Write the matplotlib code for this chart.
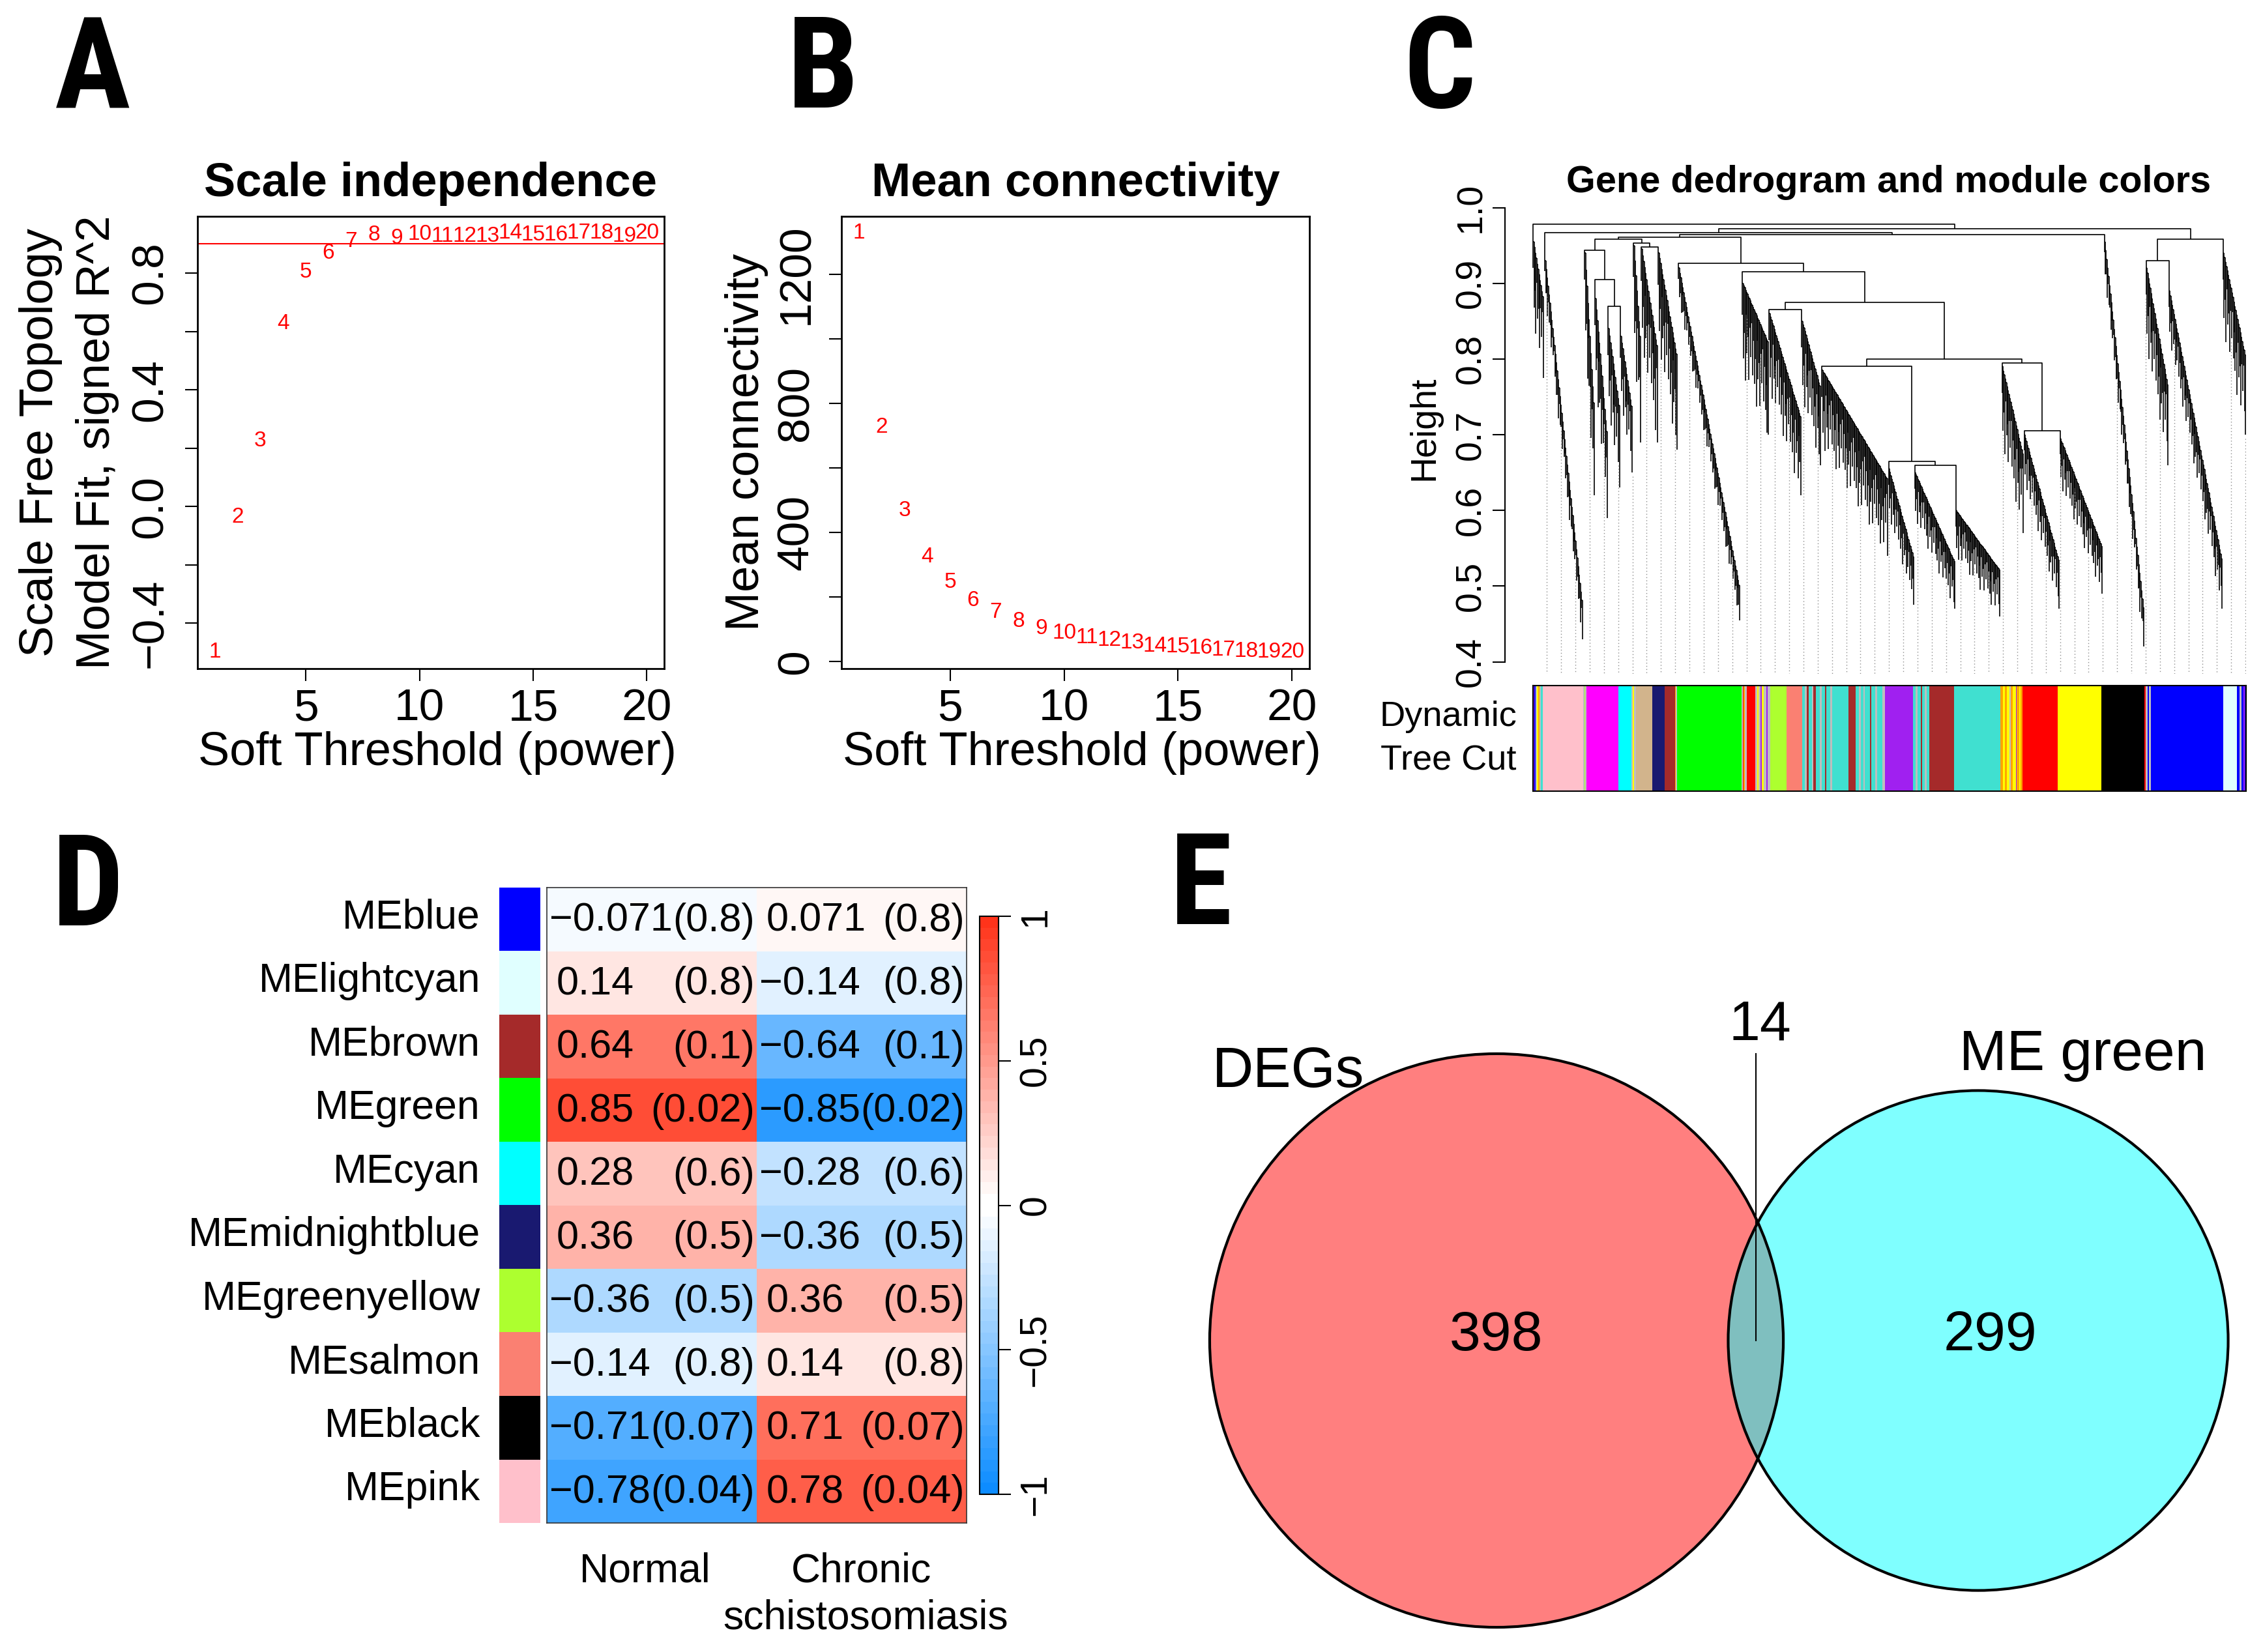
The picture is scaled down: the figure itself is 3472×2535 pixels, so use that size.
import os
import numpy as np
import matplotlib
matplotlib.use('Agg')
import matplotlib.pyplot as plt
from matplotlib import font_manager, transforms
from matplotlib.colors import ListedColormap
from matplotlib.patches import Circle
from matplotlib.collections import LineCollection

W, H = 3473, 2535

# ---------------- data ----------------
# A / B : soft threshold selection
powers = list(range(1, 21))
sft_r2 = [-0.498, -0.036, 0.224, 0.626, 0.804, 0.868, 0.908, 0.930, 0.920, 0.932,
          0.927, 0.927, 0.927, 0.937, 0.930, 0.930, 0.937, 0.937, 0.927, 0.937]
mean_k = [1328, 727, 467, 325, 245, 190, 152, 125, 103, 88,
          75, 65, 58, 48, 45, 41, 36, 32, 30, 30]
r2_cut = 0.90

# C : dendrogram, wedges = (left leaf, right leaf, top height, lowest height, fuzz)
wedges = [
    (0, 17, 0.955, 0.775, 0.10),     # 0
    (18, 77, 0.930, 0.430, 0.04),    # 1 pink
    (79, 95, 0.940, 0.620, 0.10),    # 2 magenta
    (95, 115, 0.880, 0.590, 0.10),   # 3
    (115, 134, 0.840, 0.630, 0.10),  # 4
    (134, 153, 0.830, 0.650, 0.08),  # 5
    (154, 166, 0.950, 0.690, 0.12),  # 6
    (166, 192, 0.945, 0.690, 0.12),  # 7
    (192, 222, 0.940, 0.680, 0.12),  # 8
    (223, 318, 0.920, 0.455, 0.04),  # 9 green
    (321, 362, 0.900, 0.700, 0.12),  # 10
    (362, 412, 0.860, 0.620, 0.10),  # 11
    (412, 442, 0.850, 0.660, 0.10),  # 12
    (443, 545, 0.785, 0.540, 0.10),  # 13
    (545, 585, 0.655, 0.475, 0.06),  # 14
    (585, 648, 0.650, 0.470, 0.06),  # 15
    (648, 717, 0.600, 0.460, 0.06),  # 16
    (719, 753, 0.790, 0.570, 0.10),  # 17
    (753, 808, 0.700, 0.470, 0.06),  # 18
    (808, 874, 0.695, 0.490, 0.06),  # 19
    (876, 938, 0.955, 0.420, 0.04),  # 20 black
    (940, 975, 0.920, 0.660, 0.10),  # 21
    (975, 1058, 0.890, 0.470, 0.06), # 22 blue
    (1058, 1094, 0.940, 0.700, 0.10),# 23 lightcyan
]
# merge tree: (height, left, right); ints are wedges
tree = (0.978, 0,
        (0.972,
         (0.967, 1,
          (0.964,
           (0.961,
            (0.958,
             (0.944, 2, (0.905, 3, (0.870, 4, 5))),
             (0.953, 6, (0.948, 7, 8))),
            (0.926, 9,
             (0.915, 10,
              (0.875, (0.865, 11, 12),
               (0.800,
                (0.790, 13, (0.665, 14, (0.660, 15, 16))),
                (0.795, 17, (0.705, 18, 19))))))),
           20)),
         (0.958, (0.930, 21, 22), 23)))

bar_colors = ['purple', 'blue', 'grey', 'yellow', 'orange', 'grey', 'turquoise',
              'pink', 'grey', 'greenyellow', 'grey', 'magenta', 'cyan',
              'grey', 'yellow', 'grey', 'tan', 'midnightblue', 'brown', 'orange', 'grey',
              'green', 'grey', 'red', 'orange', 'grey', 'red',
              'grey', 'yellow', 'grey', 'purple', 'yellow', 'grey', 'purple', 'grey',
              'greenyellow', 'salmon',
              'turquoise', 'grey', 'brown', 'turquoise', 'grey', 'brown', 'turquoise',
              'grey', 'turquoise', 'brown', 'turquoise', 'grey', 'turquoise',
              'turquoise', 'brown',
              'turquoise', 'grey', 'turquoise', 'grey', 'turquoise', 'brown',
              'turquoise', 'grey', 'turquoise', 'grey',
              'purple',
              'turquoise', 'grey', 'turquoise', 'brown', 'turquoise', 'grey', 'turquoise',
              'brown', 'turquoise',
              'orange', 'yellow', 'orange', 'yellow', 'grey', 'orange', 'yellow',
              'purple', 'orange', 'yellow', 'orange',
              'red', 'yellow', 'black', 'red', 'grey', 'blue', 'grey', 'blue',
              'lightcyan', 'blue', 'grey', 'blue', 'purple', 'blue']
bar_widths = [2, 2, 2, 2, 2, 2, 3,
              62, 2, 1, 2, 49, 20,
              2, 2, 3, 25, 19, 16, 1, 2,
              99, 2, 1, 2, 3, 13,
              3, 2, 3, 2, 3, 4, 2, 4,
              25, 24,
              4, 3, 3, 5, 2, 4, 6, 3, 5, 2, 6, 3, 5,
              20, 11,
              5, 3, 4, 2, 8, 2, 6, 3, 8, 4,
              43,
              4, 3, 5, 2, 4, 3, 4,
              38, 71,
              4, 3, 3, 4, 2, 3, 5, 1, 4, 2, 3,
              54, 67, 66, 2, 3, 2, 3, 111,
              21, 4, 3, 3, 2, 2]

R_COL = {'purple': '#A020F0', 'grey': '#BEBEBE', 'green': '#00FF00', 'orange': '#FFA500',
         'turquoise': '#40E0D0', 'tan': '#D2B48C', 'brown': '#A52A2A', 'salmon': '#FA8072',
         'greenyellow': '#ADFF2F', 'midnightblue': '#191970', 'lightcyan': '#E0FFFF',
         'pink': '#FFC0CB', 'magenta': '#FF00FF', 'cyan': '#00FFFF', 'red': '#FF0000',
         'yellow': '#FFFF00', 'black': '#000000', 'blue': '#0000FF'}

# D : module-trait relationships
modules = ['MEblue', 'MElightcyan', 'MEbrown', 'MEgreen', 'MEcyan', 'MEmidnightblue',
           'MEgreenyellow', 'MEsalmon', 'MEblack', 'MEpink']
module_colors = ['blue', 'lightcyan', 'brown', 'green', 'cyan', 'midnightblue',
                 'greenyellow', 'salmon', 'black', 'pink']
traits = ['Normal', 'Chronic\nschistosomiasis']
cor_normal = [-0.071, 0.14, 0.64, 0.85, 0.28, 0.36, -0.36, -0.14, -0.71, -0.78]
cor_chronic = [0.071, -0.14, -0.64, -0.85, -0.28, -0.36, 0.36, 0.14, 0.71, 0.78]
p_values = [0.8, 0.8, 0.1, 0.02, 0.6, 0.5, 0.5, 0.8, 0.07, 0.04]

# E : Venn
venn_names = ['DEGs', 'ME green']
venn_only = [398, 299]
venn_both = 14

# ---------------- setup ----------------
plt.rcParams['font.family'] = ['Liberation Sans', 'DejaVu Sans']


def find_condensed_bold():
    files = font_manager.findSystemFonts() + [f.fname for f in font_manager.fontManager.ttflist]
    prefs = ['liberationsansnarrow-bold.', 'robotocondensed-bold.', 'roboto_condensed-bold.',
             'notosans-condensedbold.', 'opensans-condensedbold.', 'opensans_condensed-bold.',
             'dejavusanscondensed-bold.']
    low = {os.path.basename(f).lower(): f for f in files}
    for p in prefs:
        for name, f in low.items():
            if name.startswith(p):
                return f
    for name, f in low.items():
        if ('condensed' in name or 'narrow' in name) and 'bold' in name and 'italic' not in name \
                and 'oblique' not in name and 'semibold' not in name and 'extrabold' not in name:
            return f
    return None


cond_file = find_condensed_bold()
if cond_file:
    letter_fp = font_manager.FontProperties(fname=cond_file, size=140)
else:
    letter_fp = font_manager.FontProperties(family='Liberation Sans', weight='bold', size=128)

fig = plt.figure(figsize=(W / 100, H / 100), dpi=100)
px_tf = transforms.Affine2D().scale(1 / W, -1 / H).translate(0, 1) + fig.transFigure


def ftext(x, y, s, **kw):
    return fig.text(x / W, 1 - y / H, s, **kw)


def px_axes(x0, y0, x1, y1):
    return fig.add_axes([x0 / W, 1 - y1 / H, (x1 - x0) / W, (y1 - y0) / H])


def mstr(v):
    return ('%g' % v).replace('-', '\u2212')


def scatter_panel(box, xs, ys, yticks, ylabels, ylab_lines, ylab_x, ytl_x, title):
    x0, y0, x1, y1 = box
    ax = px_axes(*box)
    for x, y in zip(xs, ys):
        ax.text(x, y, str(x), color='red', fontsize=24, ha='center', va='center')
    xr = max(xs) - min(xs)
    yr = max(ys) - min(ys)
    ax.set_xlim(min(xs) - 0.04 * xr, max(xs) + 0.04 * xr)
    ax.set_ylim(min(ys) - 0.04 * yr, max(ys) + 0.04 * yr)
    ax.set_xticks([5, 10, 15, 20])
    ax.set_yticks(yticks)
    ax.set_xticklabels([])
    ax.set_yticklabels([])
    ax.tick_params(length=13.5, width=1.5, direction='out')
    for s in ax.spines.values():
        s.set_linewidth(2)
    tx = transforms.blended_transform_factory(ax.transData, px_tf)
    for t in [5, 10, 15, 20]:
        ax.text(t, 1106, str(t), transform=tx, fontsize=50, ha='center', va='baseline')
    ty = transforms.blended_transform_factory(px_tf, ax.transData)
    for t, lab in zip(yticks, ylabels):
        if lab:
            ax.text(ytl_x, t, lab, transform=ty, fontsize=50, rotation=90,
                    rotation_mode='anchor', ha='center', va='baseline')
    cx = (x0 + x1) / 2
    cy = (y0 + y1) / 2
    ftext(cx + 10, 1174, 'Soft Threshold (power)', fontsize=52, ha='center', va='baseline')
    for lx, line in zip(ylab_x, ylab_lines):
        ftext(lx, cy, line, fontsize=52, rotation=90, rotation_mode='anchor',
              ha='center', va='baseline')
    ftext(cx, 301, title, fontsize=52, fontweight='bold', ha='center', va='baseline')
    return ax


# ---------------- A ----------------
axA = scatter_panel((303, 332, 1019, 1026), powers, sft_r2,
                    [-0.4, -0.2, 0.0, 0.2, 0.4, 0.6, 0.8],
                    ['\u22120.4', '', '0.0', '', '0.4', '', '0.8'],
                    ['Scale Free Topology', 'Model Fit, signed R^2'], [81, 168], 249,
                    'Scale independence')
axA.axhline(r2_cut, color='red', lw=1.5)

# ---------------- B ----------------
axB = scatter_panel((1291, 332, 2009, 1026), powers, mean_k,
                    [0, 200, 400, 600, 800, 1000, 1200],
                    ['0', '', '400', '', '800', '', '1200'],
                    ['Mean connectivity'], [1164], 1240,
                    'Mean connectivity')

# ---------------- C ----------------
def hgt(y):
    return 1 - (y - 318.5) / 1161.8


axC = px_axes(2309, 300, 3446, 1034)
axC.set_xlim(-42.4, 1094)
axC.set_ylim(hgt(1034), hgt(300))
for s in ['top', 'right', 'bottom']:
    axC.spines[s].set_visible(False)
axC.spines['left'].set_bounds(0.4, 1.0)
axC.spines['left'].set_linewidth(1.5)
axC.set_xticks([])
axC.set_yticks([0.4, 0.5, 0.6, 0.7, 0.8, 0.9, 1.0])
axC.set_yticklabels([])
axC.tick_params(length=14, width=1.5)
tyC = transforms.blended_transform_factory(px_tf, axC.transData)
for t in [0.4, 0.5, 0.6, 0.7, 0.8, 0.9, 1.0]:
    axC.text(2271, t, '%.1f' % t, transform=tyC, fontsize=40, rotation=90,
             rotation_mode='anchor', ha='center', va='baseline')
ftext(2200, 657, 'Height', fontsize=40, rotation=90, rotation_mode='anchor',
      ha='center', va='baseline')
ftext(2898, 295, 'Gene dedrogram and module colors', fontsize=41.5, fontweight='bold',
      ha='center', va='baseline')

hang_pattern = [0.35, 0.8, 0.5, 1.0, 0.25, 0.65, 0.45, 0.9, 0.3, 0.6, 0.2, 0.75]
segs = []
leaf_x, leaf_y = [], []


def draw_wedge(u0, u1, top, bottom, fuzz):
    n = max(int((u1 - u0) / 1.4), 2)
    xs = np.linspace(u0 + 0.8, u1 - 0.8, n)
    ridge = top - (top - bottom - fuzz) * np.linspace(0, 1, n)
    prev = top
    for k in range(n):
        low = ridge[k] - fuzz * hang_pattern[k % len(hang_pattern)]
        if k == n - 1:
            low = bottom
        segs.append([(xs[k], prev), (xs[k], low)])
        if k < n - 1:
            segs.append([(xs[k], ridge[k]), (xs[k + 1], ridge[k])])
        prev = ridge[k]
        leaf_x.append(xs[k])
        leaf_y.append(low)


def draw_node(node):
    if isinstance(node, int):
        u0, u1, top, bottom, fuzz = wedges[node]
        draw_wedge(u0, u1, top, bottom, fuzz)
        return u0 + 0.8, top
    h, left, right = node
    xl, hl = draw_node(left)
    xr, hr = draw_node(right)
    segs.append([(xl, hl), (xl, h), (xr, h), (xr, hr)])
    return (xl + xr) / 2, h


draw_node(tree)
axC.add_collection(LineCollection(segs, colors='black', linewidths=1.2))
leaf_x = np.array(leaf_x)
leaf_y = np.array(leaf_y)
guide_u = np.linspace(21.9, 1093, 50)
for g in guide_u:
    i = np.argmin(np.abs(leaf_x - g))
    axC.plot([g, g], [leaf_y[i] - 0.005, hgt(1034)], color='#8c8c8c', lw=1.0,
             linestyle=(0, (1, 2.5)))

axBar = px_axes(2351.6, 1052, 3446, 1214.5)
starts = np.concatenate([[0], np.cumsum(bar_widths)[:-1]])
axBar.bar(starts, 1, width=bar_widths, align='edge',
          color=[R_COL[c] for c in bar_colors], linewidth=0)
axBar.set_xlim(0, sum(bar_widths))
axBar.set_ylim(0, 1)
axBar.set_xticks([])
axBar.set_yticks([])
for s in axBar.spines.values():
    s.set_linewidth(1.5)
ftext(2327, 1114, 'Dynamic', fontsize=39, ha='right', va='baseline')
ftext(2327, 1181, 'Tree Cut', fontsize=39, ha='right', va='baseline')

# ---------------- D ----------------
blue_end = np.array([0.05, 0.55, 1.0])
red_end = np.array([1.0, 0.2, 0.1])
white = np.ones(3)
bwr = [tuple(blue_end * (1 - f) + white * f) for f in np.linspace(0, 1, 25)] + \
      [tuple(white * (1 - f) + red_end * f) for f in np.linspace(0, 1, 25)]
cmap = ListedColormap(bwr)

hx0, hy0, hx1, hy1 = 839, 1362, 1483, 2337
axD = px_axes(hx0, hy0, hx1, hy1)
mat = np.column_stack([cor_normal, cor_chronic])
im = axD.pcolormesh(np.arange(3), np.arange(len(modules) + 1), mat, cmap=cmap,
                    vmin=-1, vmax=1)
axD.set_xlim(0, 2)
axD.set_ylim(len(modules), 0)
axD.set_xticks([])
axD.set_yticks([])
for s in axD.spines.values():
    s.set_linewidth(1.2)
    s.set_color('#333333')
cell_w = (hx1 - hx0) / 2
row_h = (hy1 - hy0) / len(modules)
for r in range(len(modules)):
    base = hy0 + (r + 0.5) * row_h + 18
    for c, vals in enumerate([cor_normal, cor_chronic]):
        v = vals[r]
        left = hx0 + c * cell_w
        ftext(left + (4 if v < 0 else 15), base, mstr(v), fontsize=44,
              ha='left', va='baseline')
        ftext(left + cell_w - 3, base, '(%g)' % p_values[r], fontsize=44,
              ha='right', va='baseline')
    ftext(737, hy0 + (r + 0.5) * row_h + 14, modules[r], fontsize=45,
          ha='right', va='baseline')

axMC = px_axes(766, hy0, 829, hy1)
axMC.barh(np.arange(len(modules)), 1, height=1, align='center',
          color=[R_COL[c] for c in module_colors], linewidth=0)
axMC.set_ylim(len(modules) - 0.5, -0.5)
axMC.set_xlim(0, 1)
axMC.axis('off')

ftext(hx0 + cell_w * 0.5 - 10, 2428, traits[0], fontsize=45, ha='center', va='baseline')
ftext(hx0 + cell_w * 1.5, 2428, traits[1].split('\n')[0], fontsize=45, ha='center',
      va='baseline')
ftext(hx0 + cell_w * 1.5 + 6, 2500, traits[1].split('\n')[1], fontsize=45, ha='center',
      va='baseline')

cax = px_axes(1503, 1406, 1532, 2293)
cb = fig.colorbar(im, cax=cax, ticks=[-1, -0.5, 0, 0.5, 1])
cb.outline.set_linewidth(1.5)
cax.set_yticklabels([])
cax.tick_params(length=14, width=1.5)
tyD = transforms.blended_transform_factory(px_tf, cax.transData)
for t in [-1, -0.5, 0, 0.5, 1]:
    cax.text(1604, t, mstr(t), transform=tyD, fontsize=41, rotation=90,
             rotation_mode='anchor', ha='center', va='baseline')

# ---------------- E ----------------
axE = fig.add_axes([0, 0, 1, 1])
axE.set_xlim(0, W)
axE.set_ylim(H, 0)
axE.axis('off')
axE.patch.set_visible(False)

n1 = venn_only[0] + venn_both
n2 = venn_only[1] + venn_both
k = 21.68
r1, r2 = k * np.sqrt(n1), k * np.sqrt(n2)


def lens_area(d):
    a1 = r1 ** 2 * np.arccos((d * d + r1 * r1 - r2 * r2) / (2 * d * r1))
    a2 = r2 ** 2 * np.arccos((d * d + r2 * r2 - r1 * r1) / (2 * d * r2))
    a3 = 0.5 * np.sqrt((-d + r1 + r2) * (d + r1 - r2) * (d - r1 + r2) * (d + r1 + r2))
    return a1 + a2 - a3


target = venn_both * np.pi * k * k
lo, hi = abs(r1 - r2) + 1e-6, r1 + r2 - 1e-6
for _ in range(60):
    mid = (lo + hi) / 2
    if lens_area(mid) > target:
        lo = mid
    else:
        hi = mid
dist = (lo + hi) / 2
c1 = (2296, 2057)
c2 = (2296 + dist, 2057)
axE.add_patch(Circle(c1, r1, facecolor=(1, 0, 0, 0.5), edgecolor='none'))
axE.add_patch(Circle(c2, r2, facecolor=(0, 1, 1, 0.5), edgecolor='none'))
axE.add_patch(Circle(c1, r1, facecolor='none', edgecolor='black', lw=3))
axE.add_patch(Circle(c2, r2, facecolor='none', edgecolor='black', lw=3))
lx = ((c2[0] - r2) + (c1[0] + r1)) / 2
axE.plot([lx, lx], [c1[1] - r1, c1[1]], color='black', lw=1.5)
axE.text(lx + 7, 1596, str(venn_both), fontsize=62, ha='center', va='baseline')
axE.text(c1[0], 2072, str(venn_only[0]), fontsize=62, ha='center', va='baseline')
axE.text(c2[0] + 18, 2072, str(venn_only[1]), fontsize=62, ha='center', va='baseline')
axE.text(1860, 1668, venn_names[0], fontsize=63, ha='left', va='baseline')
axE.text(3006, 1642, venn_names[1], fontsize=63, ha='left', va='baseline')

# ---------------- panel letters ----------------
for lab, x, y in [('A', 84, 165), ('B', 1208, 165), ('C', 2153, 165),
                  ('D', 80, 1420), ('E', 1795, 1418)]:
    ftext(x, y, lab, fontproperties=letter_fp, ha='left', va='baseline')

fig.savefig('out.png', dpi=100)
